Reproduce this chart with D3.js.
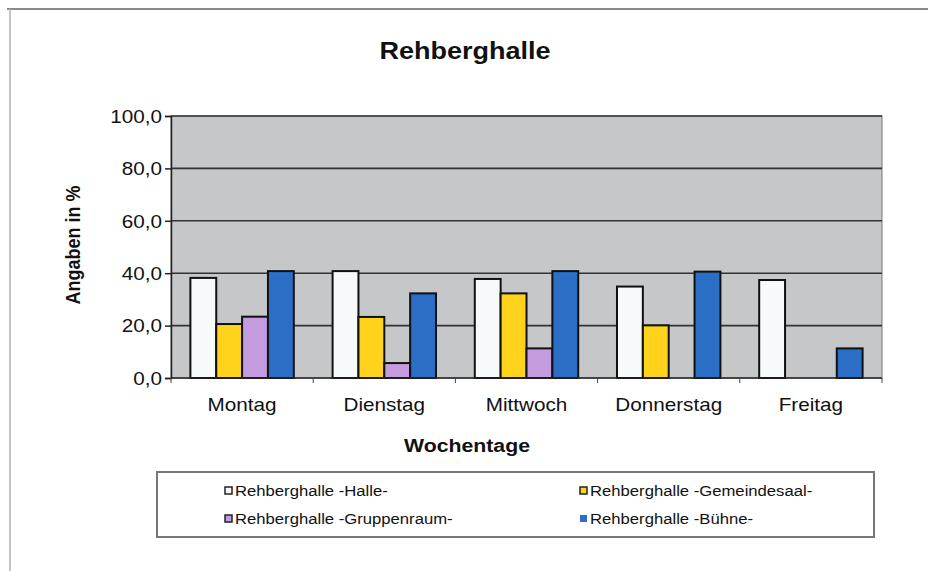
<!DOCTYPE html>
<html>
<head>
<meta charset="utf-8">
<title>Rehberghalle</title>
<script src="https://d3js.org/d3.v7.min.js"></script>
<style>
body { margin: 0; background: #fff; }
text { font-family: "Liberation Sans", Arial, sans-serif; fill: #111; }
</style>
</head>
<body>
<div id="chart"></div>
<script>
// data
var days = ["Montag", "Dienstag", "Mittwoch", "Donnerstag", "Freitag"];
var series = ["Rehberghalle -Halle-", "Rehberghalle -Gemeindesaal-", "Rehberghalle -Gruppenraum-", "Rehberghalle -Bühne-"];
var halle       = [38.2, 40.8, 37.8, 34.9, 37.4];
var gemeindesaal = [20.6, 23.3, 32.3, 20.1, 0];
var gruppenraum = [23.4, 5.7, 11.3, 0, 0];
var buehne      = [40.8, 32.3, 40.8, 40.6, 11.3];
var yTicks = [0, 20, 40, 60, 80, 100];

var colors = ["#f7fafa", "#ffd21c", "#c59be0", "#2a6ec6"];
var values = [halle, gemeindesaal, gruppenraum, buehne];

var W = 928, H = 571;
var sx = 1.15; // the scan is stretched sideways a bit
var plot = {left: 171, right: 882, top: 116, bottom: 378};

var svg = d3.select("#chart").append("svg")
    .attr("width", W)
    .attr("height", H);

// outer frame (only top and left edge visible)
svg.append("line").attr("x1", 7).attr("x2", W).attr("y1", 9).attr("y2", 9)
    .attr("stroke", "#8a8a8a").attr("stroke-width", 2);
svg.append("line").attr("x1", 10).attr("x2", 10).attr("y1", 9).attr("y2", H)
    .attr("stroke", "#b0b0b0").attr("stroke-width", 1.5);

function label(x, y, txt, size, weight, anchor, rot) {
  return svg.append("text")
    .attr("transform", "translate(" + x + "," + y + ") scale(" + sx + ",1)" + (rot ? " rotate(" + rot + ")" : ""))
    .attr("text-anchor", anchor || "middle")
    .style("font-size", size + "px")
    .style("font-weight", weight || "normal")
    .text(txt);
}

var x = d3.scaleBand().domain(days).range([plot.left, plot.right]);
var xs = d3.scaleBand().domain(series).range([0, x.bandwidth()]).paddingInner(0).paddingOuter(0.75);
var y = d3.scaleLinear().domain([0, 100]).range([plot.bottom, plot.top]);

// plot background
svg.append("rect")
    .attr("x", plot.left).attr("y", plot.top)
    .attr("width", plot.right - plot.left).attr("height", plot.bottom - plot.top)
    .attr("fill", "#c5c7c9")
    .attr("stroke", "#777").attr("stroke-width", 1);

// gridlines
svg.append("g").selectAll("line")
  .data(yTicks.filter(function(d) { return d > 0; }))
  .enter().append("line")
    .attr("x1", plot.left).attr("x2", plot.right)
    .attr("y1", function(d) { return y(d); }).attr("y2", function(d) { return y(d); })
    .attr("stroke", "#333").attr("stroke-width", 1.6);

// y axis
var yAxis = svg.append("g")
    .attr("transform", "translate(" + plot.left + ",0)")
    .call(d3.axisLeft(y).tickValues(yTicks).tickSize(6).tickFormat(function(d) { return d3.format(".1f")(d).replace(".", ","); }));
yAxis.select(".domain").attr("stroke", "#222").attr("stroke-width", 1.5);
yAxis.selectAll(".tick line").attr("stroke", "#222").attr("stroke-width", 1.5);
yAxis.selectAll(".tick text")
    .attr("x", 0).attr("dy", "0.35em")
    .attr("transform", "translate(-9,0) scale(" + sx + ",1)")
    .style("font-size", "18px").style("font-family", "Liberation Sans, Arial, sans-serif").attr("fill", "#111");

// bars
days.forEach(function(day, i) {
  series.forEach(function(s, j) {
    var v = values[j][i];
    if (!v) return;
    svg.append("rect")
      .attr("x", x(day) + xs(s))
      .attr("y", y(v))
      .attr("width", xs.bandwidth())
      .attr("height", y(0) - y(v))
      .attr("fill", colors[j])
      .attr("stroke", "#111")
      .attr("stroke-width", 2);
  });
});

// x axis
var xAxis = svg.append("g")
    .attr("transform", "translate(0," + plot.bottom + ")");
xAxis.append("line").attr("x1", plot.left).attr("x2", plot.right)
    .attr("stroke", "#222").attr("stroke-width", 1.5);
xAxis.selectAll("line.tk")
  .data(days.map(function(d) { return x(d); }).concat([plot.right]))
  .enter().append("line")
    .attr("class", "tk")
    .attr("x1", function(d) { return d; }).attr("x2", function(d) { return d; })
    .attr("y1", 0).attr("y2", 5)
    .attr("stroke", "#444").attr("stroke-width", 1);
days.forEach(function(d) {
  label(x(d) + x.bandwidth() / 2, plot.bottom + 33, d, 18, "normal");
});

// titles
label(W / 2 + 1, 59, "Rehberghalle", 23.5, "bold");
label(467, 452, "Wochentage", 18.5, "bold");
label(80, (plot.top + plot.bottom) / 2 - 2, "Angaben in %", 18, "bold", "middle", -90);

// legend
svg.append("rect")
    .attr("x", 157).attr("y", 472)
    .attr("width", 717).attr("height", 65)
    .attr("fill", "#fff")
    .attr("stroke", "#777").attr("stroke-width", 2);

var legPos = [[225, 491], [580, 491], [225, 519], [580, 519]];
series.forEach(function(s, j) {
  var p = legPos[j];
  svg.append("rect")
    .attr("x", p[0]).attr("y", p[1] - 4)
    .attr("width", 7).attr("height", 7)
    .attr("fill", colors[j])
    .attr("stroke", j === 3 ? "none" : "#222")
    .attr("stroke-width", 1.5);
  label(p[0] + 10, p[1] + 5, s, 14.5, "normal", "start");
});
</script>
</body>
</html>
